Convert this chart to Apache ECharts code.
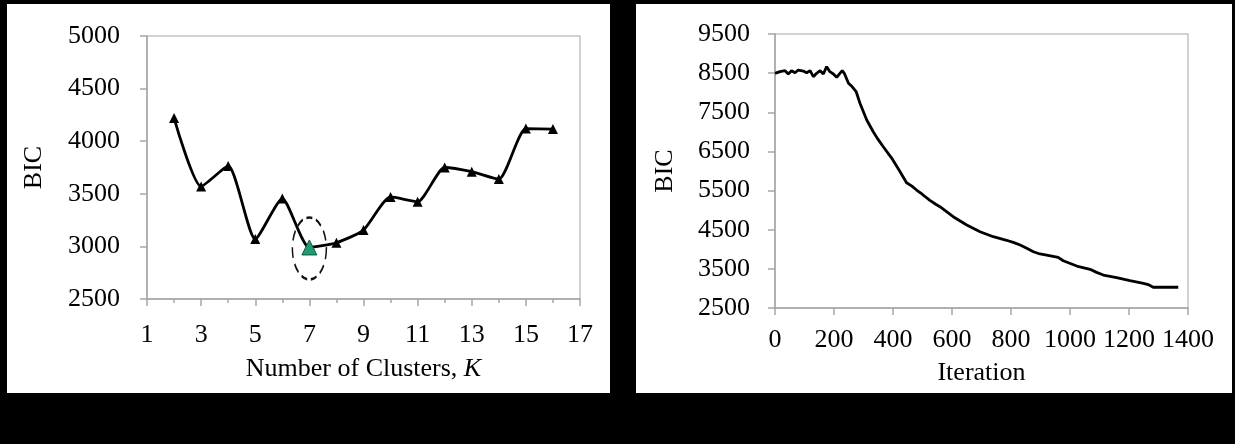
<!DOCTYPE html>
<html>
<head>
<meta charset="utf-8">
<script src="https://cdn.jsdelivr.net/npm/echarts@6/dist/echarts.min.js"></script>
<style>
  html, body { margin: 0; padding: 0; background: #000; }
  body { width: 1235px; height: 444px; position: relative; overflow: hidden; }
  .panel { position: absolute; background: #fff; }
  #left { left: 7px; top: 4px; width: 603px; height: 389px; }
  #right { left: 636px; top: 4px; width: 596px; height: 389px; }
</style>
</head>
<body>
<div id="left" class="panel"></div>
<div id="right" class="panel"></div>
<script>
// left chart: BIC against number of clusters
var clusterK = [2, 3, 4, 5, 6, 7, 8, 9, 10, 11, 12, 13, 14, 15, 16];
var clusterBIC = [4220, 3570, 3765, 3070, 3455, 2990, 3035, 3155, 3470, 3425, 3750, 3710, 3640, 4120, 4115];
var bestK = 7;
var kTicks = [1, 3, 5, 7, 9, 11, 13, 15, 17];
var leftBicTicks = [2500, 3000, 3500, 4000, 4500, 5000];

// right chart: BIC over the iterations
var iterX = [0, 17, 34, 45, 56, 68, 79, 96, 107, 119, 130, 141, 153, 164, 175, 186, 198, 209, 220, 228,
  236, 249, 262, 275, 288, 311, 333, 350, 367, 396, 424, 446, 463, 480, 500, 525, 545, 559, 604, 650,
  695, 740, 785, 810, 831, 855, 876, 898, 921, 960, 977, 1023, 1068, 1090, 1113, 1158, 1203, 1249, 1265,
  1282, 1300, 1367];
var iterBIC = [8495, 8537, 8563, 8478, 8563, 8511, 8580, 8554, 8511, 8563, 8410, 8495, 8563, 8478, 8665, 8537, 8478, 8393, 8495, 8563,
  8480, 8240, 8150, 8030, 7730, 7303, 7004, 6800, 6620, 6324, 5980, 5700, 5620, 5514, 5400, 5250, 5150, 5088, 4832, 4620,
  4449, 4321, 4230, 4170, 4109, 4020, 3938, 3880, 3853, 3794, 3708, 3572, 3488, 3410, 3342, 3274, 3197, 3129, 3100,
  3030, 3030, 3030];
var iterTicks = [0, 200, 400, 600, 800, 1000, 1200, 1400];
var rightBicTicks = [2500, 3500, 4500, 5500, 6500, 7500, 8500, 9500];

var serif = 'Liberation Serif';
var axisGray = '#a6a6a6';

var axisBase = function (ticks, opts) {
  var o = {
    type: 'value',
    min: ticks[0],
    max: ticks[ticks.length - 1],
    interval: ticks[1] - ticks[0],
    axisLine: { show: true, lineStyle: { color: axisGray, width: 1.5 } },
    axisTick: { show: true, length: 7, lineStyle: { color: axisGray, width: 1.5 } },
    splitLine: { show: false },
    nameLocation: 'middle',
    nameTextStyle: { color: '#000', fontFamily: serif, fontSize: 26 }
  };
  for (var k in opts) o[k] = opts[k];
  return o;
};

var labelStyle = function (margin) {
  return {
    color: '#000', fontFamily: serif, fontSize: 26, margin: margin,
    hideOverlap: false, showMinLabel: true, showMaxLabel: true,
    formatter: function (v) { return String(v); }
  };
};

var leftChart = echarts.init(document.getElementById('left'));
var leftData = clusterK.map(function (k, i) {
  var p = { value: [k, clusterBIC[i]] };
  if (k === bestK) {
    p.symbolSize = 15;
    p.itemStyle = { color: '#1f9a72', borderColor: '#0c5a40', borderWidth: 1 };
  }
  return p;
});
leftChart.setOption({
  animation: false,
  grid: {
    left: 140, right: 30, top: 32, bottom: 94, containLabel: false, outerBoundsMode: 'none',
    show: true, borderColor: '#c4c4c4', borderWidth: 1.5
  },
  xAxis: axisBase(kTicks, {
    name: 'Number of Clusters, {i|K}',
    nameGap: 57,
    nameTextStyle: {
      color: '#000', fontFamily: serif, fontSize: 26,
      rich: { i: { fontStyle: 'italic', fontFamily: serif, fontSize: 26, color: '#000' } }
    },
    axisLabel: labelStyle(23),
    minorTick: { show: true, splitNumber: 2, length: 4, lineStyle: { color: axisGray, width: 1.5 } }
  }),
  yAxis: axisBase(leftBicTicks, {
    name: 'BIC',
    nameGap: 100,
    axisLabel: labelStyle(27)
  }),
  series: [{
    type: 'line',
    data: leftData,
    smooth: 0.2,
    symbol: 'triangle',
    symbolSize: 10,
    itemStyle: { color: '#000' },
    lineStyle: { color: '#000', width: 2.8 },
    z: 3,
    markPoint: {
      silent: true,
      symbol: 'circle',
      symbolSize: [34, 62],
      label: { show: false },
      itemStyle: { color: 'rgba(0,0,0,0)', borderColor: '#111', borderWidth: 2, borderType: [8, 5] },
      data: [{ coord: [bestK, 2980] }]
    }
  }]
});

var rightChart = echarts.init(document.getElementById('right'));
rightChart.setOption({
  animation: false,
  grid: {
    left: 139, right: 44, top: 30, bottom: 85, containLabel: false, outerBoundsMode: 'none',
    show: true, borderColor: '#c4c4c4', borderWidth: 1.5
  },
  xAxis: axisBase(iterTicks, {
    name: 'Iteration',
    nameGap: 52,
    axisLabel: labelStyle(19)
  }),
  yAxis: axisBase(rightBicTicks, {
    name: 'BIC',
    nameGap: 97,
    axisLabel: labelStyle(25)
  }),
  series: [{
    type: 'line',
    data: iterX.map(function (x, i) { return [x, iterBIC[i]]; }),
    showSymbol: false,
    lineStyle: { color: '#000', width: 2.8 }
  }]
});
</script>
</body>
</html>
